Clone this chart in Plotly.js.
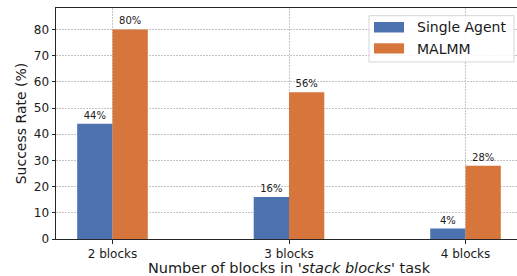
<!DOCTYPE html>
<html><head><meta charset="utf-8">
<script src="https://cdn.plot.ly/plotly-3.0.1.min.js"></script>
<style>html,body{margin:0;padding:0;overflow:hidden;background:#fff}#chart{width:523px;height:276px}</style>
</head><body><div id="chart"></div>
<script>
const categories = ['2 blocks', '3 blocks', '4 blocks'];
const singleAgent = [44, 16, 4];
const malmm = [80, 56, 28];
const seriesNames = ['Single Agent', 'MALMM'];
const colors = ['#4C72B0', '#D6763C'];

const W = 523, H = 276, ML = 56, MR = 1, MT = 8, MB = 37;
const PW = W - ML - MR, PH = H - MT - MB;
const px = x => (x - ML) / PW;
const py = y => (H - MB - y) / PH;

const mk = (name, vals, color) => ({
  type: 'bar', name: name, x: categories, y: vals,
  marker: {color: color, line: {width: 0}},
  texttemplate: '%{y}%', textposition: 'outside',
  textfont: {family: 'DejaVu Sans', size: 10, color: '#1a1a1a'},
  cliponaxis: false, showlegend: false, hoverinfo: 'none'
});

const data = [mk(seriesNames[0], singleAgent, colors[0]), mk(seriesNames[1], malmm, colors[1])];

const shapes = [
  {type:'rect', xref:'paper', yref:'paper', x0:px(369), x1:px(514), y0:py(15.7), y1:py(62),
   line:{color:'#d6d6d6', width:1}, fillcolor:'rgba(255,255,255,0.85)', layer:'above'},
  {type:'rect', xref:'paper', yref:'paper', x0:px(374), x1:px(404), y0:py(22), y1:py(32.5),
   line:{width:0}, fillcolor:colors[0], layer:'above'},
  {type:'rect', xref:'paper', yref:'paper', x0:px(374), x1:px(404), y0:py(43.3), y1:py(53.5),
   line:{width:0}, fillcolor:colors[1], layer:'above'}
];
const annotations = [
  {xref:'paper', yref:'paper', x:px(415), y:py(27.5), xanchor:'left', yanchor:'middle', showarrow:false,
   text:seriesNames[0], font:{family:'DejaVu Sans', size:14, color:'#1a1a1a'}},
  {xref:'paper', yref:'paper', x:px(415), y:py(48.5), xanchor:'left', yanchor:'middle', showarrow:false,
   text:seriesNames[1], font:{family:'DejaVu Sans', size:14, color:'#1a1a1a'}}
];

const axisCommon = {
  showline:true, mirror:true, linecolor:'#262626', linewidth:1,
  ticks:'outside', ticklen:3.5, tickwidth:1, tickcolor:'#262626',
  showgrid:true, gridcolor:'#c4c4c4', griddash:'2px,1px', gridwidth:1,
  zeroline:false, tickfont:{family:'DejaVu Sans', size:12, color:'#1a1a1a'}
};

const layout = {
  width:W, height:H, margin:{l:ML, r:MR, t:MT, b:MB},
  paper_bgcolor:'#fff', plot_bgcolor:'#fff',
  barmode:'group', bargap:0.6, bargroupgap:0,
  font:{family:'DejaVu Sans', color:'#1a1a1a'},
  xaxis: Object.assign({}, axisCommon, {
    type:'category', range:[-0.32, 2.32],
    title:{text:"Number of blocks in '<i>stack blocks</i>' task", font:{family:'DejaVu Sans', size:14.5, color:'#1a1a1a'}, standoff:0}
  }),
  yaxis: Object.assign({}, axisCommon, {
    range:[0, 88.2], dtick:10, tick0:0,
    title:{text:'Success Rate (%)', font:{family:'DejaVu Sans', size:14, color:'#1a1a1a'}, standoff:3}
  }),
  shapes: shapes, annotations: annotations, showlegend:false
};

Plotly.newPlot('chart', data, layout, {staticPlot:true, displayModeBar:false});
</script></body></html>
